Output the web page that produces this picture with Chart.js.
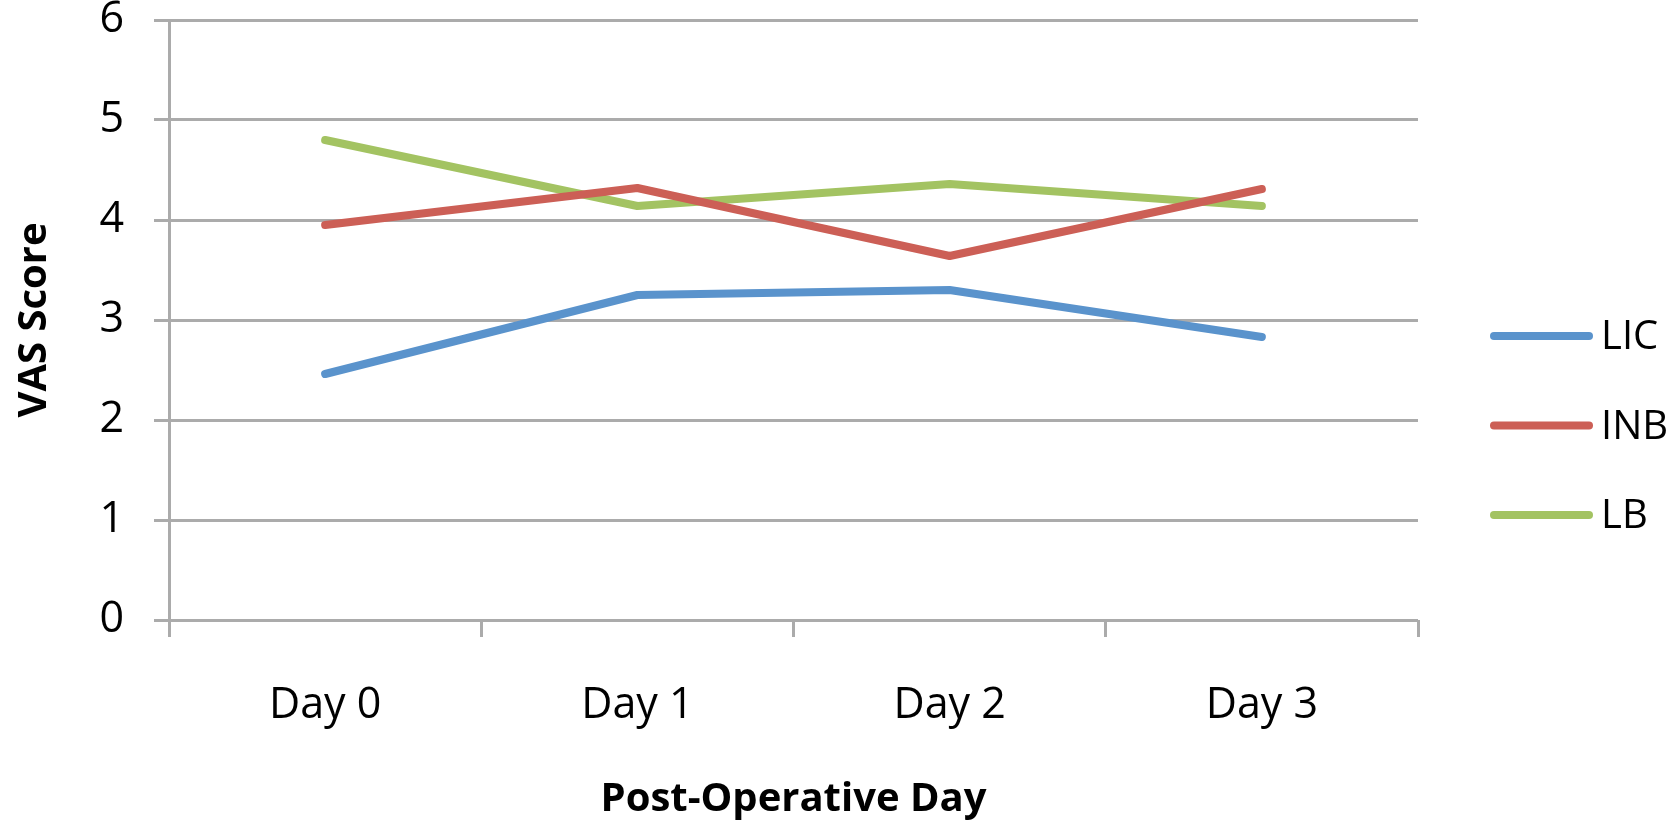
<!DOCTYPE html>
<html>
<head>
<meta charset="utf-8">
<title>VAS Score by Post-Operative Day</title>
<script src="https://cdn.jsdelivr.net/npm/chart.js@4"></script>
<style>
  html, body { margin: 0; padding: 0; background: #fff; }
  #wrap { width: 1678px; height: 826px; }
</style>
</head>
<body>
<div id="wrap"><canvas id="vasChart"></canvas></div>
<script>
'use strict';

// Daten
const days = ['Day 0', 'Day 1', 'Day 2', 'Day 3'];
const licScores = [2.46, 3.25, 3.30, 2.83];
const inbScores = [3.95, 4.32, 3.64, 4.31];
const lbScores = [4.80, 4.14, 4.36, 4.14];
const yTicks = [0, 1, 2, 3, 4, 5, 6];

const gridGray = '#ababab';
const fontFamily = '"Open Sans", sans-serif';

// Legende rechts neben dem Diagramm
const sideLegend = {
  id: 'sideLegend',
  afterDraw(chart) {
    const ctx = chart.ctx;
    ctx.save();
    ctx.font = `40px ${fontFamily}`;
    ctx.textBaseline = 'middle';
    chart.data.datasets.forEach((ds, i) => {
      const y = 336 + i * 89.5;
      ctx.strokeStyle = ds.borderColor;
      ctx.lineWidth = ds.borderWidth;
      ctx.lineCap = 'round';
      ctx.beginPath();
      ctx.moveTo(1494, y);
      ctx.lineTo(1589, y);
      ctx.stroke();
      ctx.fillStyle = '#000';
      ctx.fillText(ds.label, 1601, y + 2);
    });
    ctx.restore();
  },
};

const makeSeries = (label, data, color) => ({
  label,
  data,
  borderColor: color,
  backgroundColor: color,
  borderWidth: 8,
  borderCapStyle: 'round',
  borderJoinStyle: 'round',
  pointRadius: 0,
  tension: 0,
  fill: false,
});

const ctx = document.getElementById('vasChart').getContext('2d');
new Chart(ctx, {
  type: 'line',
  data: {
    labels: days,
    datasets: [
      makeSeries('LIC', licScores, '#5a93cc'),
      makeSeries('INB', inbScores, '#cc5f56'),
      makeSeries('LB', lbScores, '#a3c362'),
    ],
  },
  options: {
    responsive: true,
    maintainAspectRatio: false,
    animation: false,
    layout: { padding: { top: 20, right: 260, left: 0, bottom: 0 } },
    plugins: {
      legend: { display: false },
      tooltip: { enabled: false },
    },
    scales: {
      x: {
        offset: true,
        grid: {
          offset: true,
          drawOnChartArea: false,
          color: gridGray,
          lineWidth: 3,
          tickLength: 17,
        },
        border: { display: false },
        ticks: {
          color: '#000',
          padding: 43,
          font: { family: fontFamily, size: 43 },
        },
        title: {
          display: true,
          text: 'Post-Operative Day',
          color: '#000',
          font: { family: fontFamily, size: 40, weight: 'bold' },
          padding: { top: 0, bottom: 2 },
        },
        afterFit: scale => { scale.height = 206; },
      },
      y: {
        min: 0,
        max: 6,
        afterBuildTicks: scale => {
          scale.ticks = yTicks.map(v => ({ value: v }));
        },
        grid: {
          color: gridGray,
          lineWidth: 3,
          tickLength: 15,
        },
        border: { display: true, color: gridGray, width: 3 },
        ticks: {
          color: '#000',
          padding: 30,
          font: { family: fontFamily, size: 43, lineHeight: 1 },
        },
        title: {
          display: true,
          text: 'VAS Score',
          color: '#000',
          font: { family: fontFamily, size: 40, weight: 'bold' },
          padding: { top: 11, bottom: 0 },
        },
        afterFit: scale => {
          scale.width = 169;
          scale.paddingTop = 20;
          scale.paddingBottom = 0;
        },
      },
    },
  },
  plugins: [sideLegend],
});
</script>
</body>
</html>
